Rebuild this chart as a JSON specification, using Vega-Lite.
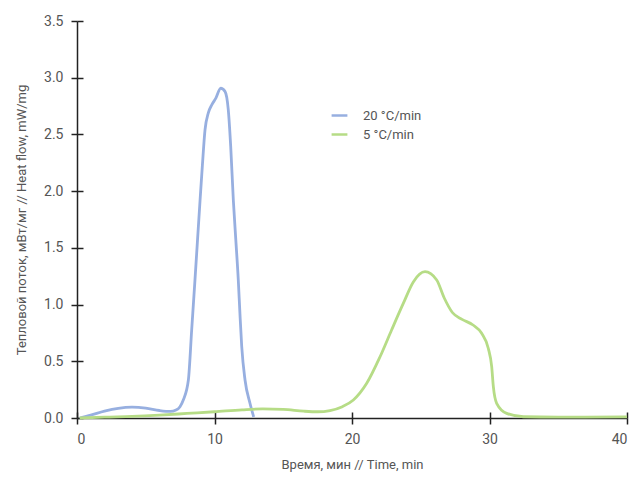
{
  "$schema": "https://vega.github.io/schema/vega-lite/v6.json",
  "width": 550,
  "height": 397,
  "autosize": {"type": "none"},
  "padding": {"left": 77, "top": 21, "right": 8, "bottom": 59},
  "background": "white",
  "config": {
    "view": {"stroke": null},
    "font": "Roboto",
    "axis": {"grid": false, "labelColor": "#555555", "titleColor": "#555555", "labelFontSize": 14, "titleFontSize": 13, "titleFontWeight": "normal", "domainColor": "#222222", "tickColor": "#222222", "domainWidth": 1.5, "tickWidth": 1.5}
  },
  "data": {"values": [
    {"t": 0.2, "v": 0.0, "s": "20 °C/min"},
    {"t": 1.0, "v": 0.025, "s": "20 °C/min"},
    {"t": 2.0, "v": 0.06, "s": "20 °C/min"},
    {"t": 3.0, "v": 0.085, "s": "20 °C/min"},
    {"t": 4.0, "v": 0.095, "s": "20 °C/min"},
    {"t": 5.0, "v": 0.087, "s": "20 °C/min"},
    {"t": 6.0, "v": 0.066, "s": "20 °C/min"},
    {"t": 6.8, "v": 0.058, "s": "20 °C/min"},
    {"t": 7.2, "v": 0.07, "s": "20 °C/min"},
    {"t": 7.49, "v": 0.1, "s": "20 °C/min"},
    {"t": 7.73, "v": 0.159, "s": "20 °C/min"},
    {"t": 8.1, "v": 0.335, "s": "20 °C/min"},
    {"t": 8.34, "v": 0.776, "s": "20 °C/min"},
    {"t": 8.58, "v": 1.217, "s": "20 °C/min"},
    {"t": 8.95, "v": 1.92, "s": "20 °C/min"},
    {"t": 9.12, "v": 2.23, "s": "20 °C/min"},
    {"t": 9.31, "v": 2.54, "s": "20 °C/min"},
    {"t": 9.55, "v": 2.69, "s": "20 °C/min"},
    {"t": 9.8, "v": 2.76, "s": "20 °C/min"},
    {"t": 10.1, "v": 2.82, "s": "20 °C/min"},
    {"t": 10.45, "v": 2.907, "s": "20 °C/min"},
    {"t": 10.76, "v": 2.88, "s": "20 °C/min"},
    {"t": 11.0, "v": 2.72, "s": "20 °C/min"},
    {"t": 11.18, "v": 2.39, "s": "20 °C/min"},
    {"t": 11.37, "v": 1.92, "s": "20 °C/min"},
    {"t": 11.55, "v": 1.57, "s": "20 °C/min"},
    {"t": 11.73, "v": 1.217, "s": "20 °C/min"},
    {"t": 11.85, "v": 0.92, "s": "20 °C/min"},
    {"t": 11.98, "v": 0.63, "s": "20 °C/min"},
    {"t": 12.22, "v": 0.335, "s": "20 °C/min"},
    {"t": 12.58, "v": 0.13, "s": "20 °C/min"},
    {"t": 12.85, "v": 0.01, "s": "20 °C/min"},
    {"t": 0.2, "v": 0.0, "s": "5 °C/min"},
    {"t": 2.0, "v": 0.008, "s": "5 °C/min"},
    {"t": 4.0, "v": 0.014, "s": "5 °C/min"},
    {"t": 6.0, "v": 0.025, "s": "5 °C/min"},
    {"t": 8.0, "v": 0.04, "s": "5 °C/min"},
    {"t": 10.0, "v": 0.055, "s": "5 °C/min"},
    {"t": 12.0, "v": 0.072, "s": "5 °C/min"},
    {"t": 13.5, "v": 0.08, "s": "5 °C/min"},
    {"t": 15.0, "v": 0.076, "s": "5 °C/min"},
    {"t": 16.5, "v": 0.06, "s": "5 °C/min"},
    {"t": 17.5, "v": 0.055, "s": "5 °C/min"},
    {"t": 18.4, "v": 0.066, "s": "5 °C/min"},
    {"t": 19.3, "v": 0.1, "s": "5 °C/min"},
    {"t": 20.1, "v": 0.159, "s": "5 °C/min"},
    {"t": 21.07, "v": 0.306, "s": "5 °C/min"},
    {"t": 22.04, "v": 0.54, "s": "5 °C/min"},
    {"t": 22.88, "v": 0.776, "s": "5 °C/min"},
    {"t": 23.73, "v": 1.01, "s": "5 °C/min"},
    {"t": 24.46, "v": 1.2, "s": "5 °C/min"},
    {"t": 25.31, "v": 1.29, "s": "5 °C/min"},
    {"t": 26.16, "v": 1.217, "s": "5 °C/min"},
    {"t": 26.7, "v": 1.06, "s": "5 °C/min"},
    {"t": 27.3, "v": 0.93, "s": "5 °C/min"},
    {"t": 28.0, "v": 0.87, "s": "5 °C/min"},
    {"t": 28.8, "v": 0.82, "s": "5 °C/min"},
    {"t": 29.43, "v": 0.747, "s": "5 °C/min"},
    {"t": 29.91, "v": 0.615, "s": "5 °C/min"},
    {"t": 30.16, "v": 0.452, "s": "5 °C/min"},
    {"t": 30.28, "v": 0.276, "s": "5 °C/min"},
    {"t": 30.52, "v": 0.13, "s": "5 °C/min"},
    {"t": 31.25, "v": 0.041, "s": "5 °C/min"},
    {"t": 32.46, "v": 0.011, "s": "5 °C/min"},
    {"t": 35.0, "v": 0.008, "s": "5 °C/min"},
    {"t": 40.0, "v": 0.01, "s": "5 °C/min"}
  ]},
  "layer": [
    {
      "mark": {"type": "line", "interpolate": "monotone", "strokeWidth": 2.8, "clip": false},
      "encoding": {
        "x": {"field": "t", "type": "quantitative", "scale": {"domain": [0, 40], "nice": false},
              "axis": {"orient": "bottom", "values": [0, 10, 20, 30, 40], "tickSize": 6, "labelPadding": 8, "title": "Время, мин // Time, min", "titlePadding": 12}},
        "y": {"field": "v", "type": "quantitative", "scale": {"domain": [0, 3.5], "nice": false},
              "axis": {"orient": "left", "values": [0, 0.5, 1, 1.5, 2, 2.5, 3, 3.5], "format": ".1f", "tickSize": 6, "labelPadding": 8, "title": "Тепловой поток, мВт/мг // Heat flow, mW/mg", "titlePadding": 15}},
        "color": {"field": "s", "type": "nominal", "sort": ["20 °C/min", "5 °C/min"],
                  "scale": {"domain": ["20 °C/min", "5 °C/min"], "range": ["#97afe0", "#b6dc86"]},
                  "legend": {"title": null, "orient": "none", "legendX": 253, "legendY": 85, "symbolType": "stroke", "symbolStrokeWidth": 2.5, "symbolSize": 250, "labelFontSize": 13, "labelColor": "#555555", "rowPadding": 2, "labelOffset": 14}}
      }
    },
    {
      "mark": {"type": "line", "opacity": 0},
      "encoding": {
        "x": {"field": "t", "type": "quantitative", "scale": {"domain": [0, 40], "nice": false},
              "axis": {"orient": "bottom", "values": [0, 10, 20, 30, 40], "tickSize": 6, "offset": -6, "domain": false, "labels": false, "title": null}},
        "y": {"field": "v", "type": "quantitative", "scale": {"domain": [0, 3.5], "nice": false},
              "axis": {"orient": "left", "values": [0, 0.5, 1, 1.5, 2, 2.5, 3, 3.5], "tickSize": 6, "offset": -6, "domain": false, "labels": false, "title": null}},
        "detail": {"field": "s", "type": "nominal"}
      }
    }
  ],
  "resolve": {"axis": {"x": "independent", "y": "independent"}}
}
